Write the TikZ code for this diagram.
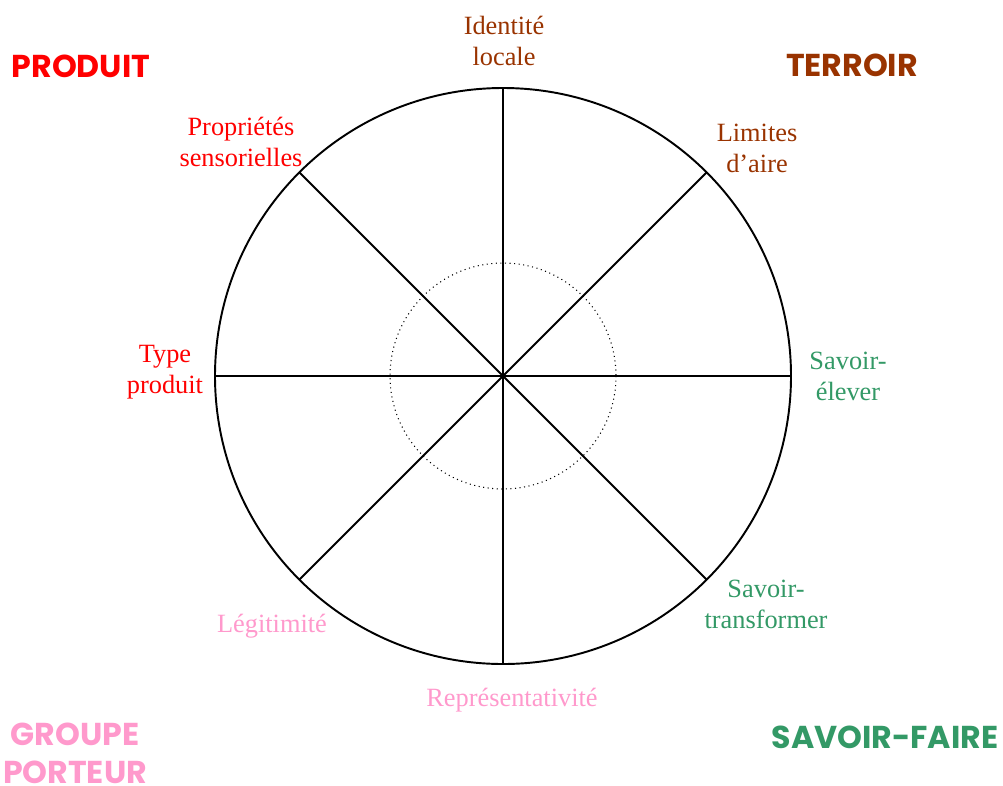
\documentclass[tikz,border=0pt]{standalone}
\usepackage{fontspec}
\usetikzlibrary{calc}
\setmainfont{Liberation Serif}
\newfontfamily\headfont{Poppins}
\definecolor{produitred}{HTML}{FF0000}
\definecolor{terroirbrown}{HTML}{993300}
\definecolor{savoirgreen}{HTML}{339966}
\definecolor{groupepink}{HTML}{FF99CC}
\tikzset{
    axislabel/.style={align=center, font=\fontsize{15}{17.6}\selectfont},
    poletitle/.style={align=center, font=\headfont\bfseries\fontsize{18}{21.6}\selectfont}
}
\begin{document}
\begin{tikzpicture}[x=0.02cm, y=-0.02cm]
\useasboundingbox (0,0) rectangle (1003,785);

% Wheel
\coordinate (c) at (503,376);
\draw[line width=1.1pt] (c) circle (288);
\draw[dotted, line width=0.6pt] (c) circle (113);
\foreach \a in {0, 45, ..., 315} {
    \coordinate (rim\a) at ($(c)+(\a:288)$);
    \draw[line width=1.1pt] (c) -- (rim\a);
}

% Axis labels
\node[axislabel, text=terroirbrown] (identite) at (504,41) {Identité\\locale};
\node[axislabel, text=terroirbrown] (limites) at (757,148) {Limites\\d’aire};
\node[axislabel, text=savoirgreen] (elever) at (848,376) {Savoir-\\élever};
\node[axislabel, text=savoirgreen] (transformer) at (766,604) {Savoir-\\transformer};
\node[axislabel, text=groupepink] (represent) at (512,700) {Représentativité};
\node[axislabel, text=groupepink] (legitimite) at (272,626) {Légitimité};
\node[axislabel, text=produitred] (type) at (165,372) {Type\\produit};
\node[axislabel, text=produitred] (proprietes) at (241,142) {Propriétés\\sensorielles};

% Pole titles
\node[poletitle, text=produitred] (produit) at (81,66) {PRODUIT};
\node[poletitle, text=terroirbrown] (terroir) at (852,65) {TERROIR};
\node[poletitle, text=savoirgreen] (savoirfaire) at (885,737) {SAVOIR-FAIRE};
\node[poletitle, text=groupepink] (groupe) at (75,753) {GROUPE\\PORTEUR};

\end{tikzpicture}
\end{document}
